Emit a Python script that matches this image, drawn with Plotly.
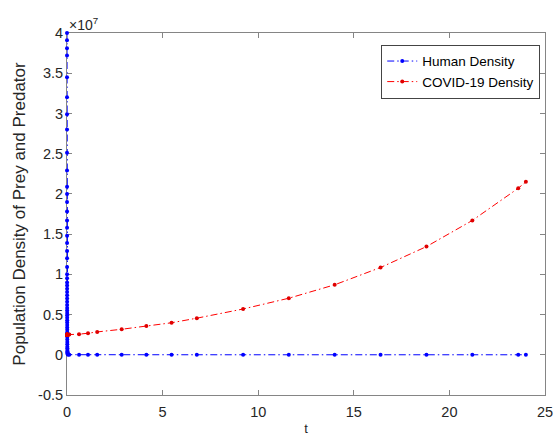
import plotly.graph_objects as go

# Solver output: the initial fast transient near t = 0 (values in units of 1e7)
t_transient = [
    0.0000, 0.0001, 0.0002, 0.0003, 0.0005, 0.0007, 0.0009, 0.0011, 0.0014, 0.0017,
    0.0020, 0.0022, 0.0024, 0.0026, 0.0028, 0.0030, 0.0032, 0.0034, 0.0036, 0.0038,
    0.0040, 0.0043, 0.0046, 0.0049, 0.0052, 0.0055, 0.0058, 0.0061, 0.0064, 0.0067,
    0.0070, 0.0074, 0.0078, 0.0082, 0.0086, 0.0090, 0.0095, 0.0100, 0.0105, 0.0110,
    0.0116, 0.0122, 0.0128, 0.0135, 0.0142, 0.0150, 0.0160, 0.0170, 0.0185, 0.0200,
    0.0220, 0.0250, 0.0290, 0.0340, 0.0420, 0.0550,
]
human_transient = [
    4.00, 3.91, 3.81, 3.72, 3.45, 3.20, 2.99, 2.80, 2.51, 2.29,
    2.09, 2.00, 1.90, 1.78, 1.67, 1.58, 1.48, 1.39, 1.29, 1.20,
    1.09, 1.00, 0.95, 0.90, 0.86, 0.82, 0.78, 0.74, 0.70, 0.66,
    0.62, 0.58, 0.55, 0.52, 0.49, 0.46, 0.43, 0.40, 0.37, 0.34,
    0.31, 0.28, 0.25, 0.22, 0.19, 0.16, 0.13, 0.10, 0.08, 0.06,
    0.04, 0.03, 0.02, 0.01, 0.005, 0.002,
]
covid_transient = [
    0.250, 0.250, 0.250, 0.250, 0.250, 0.250, 0.250, 0.250, 0.250, 0.250,
    0.250, 0.250, 0.250, 0.250, 0.250, 0.250, 0.250, 0.250, 0.250, 0.250,
    0.250, 0.250, 0.250, 0.250, 0.250, 0.250, 0.250, 0.250, 0.250, 0.250,
    0.250, 0.250, 0.250, 0.250, 0.250, 0.250, 0.250, 0.250, 0.250, 0.250,
    0.250, 0.250, 0.250, 0.250, 0.250, 0.250, 0.250, 0.250, 0.250, 0.250,
    0.250, 0.250, 0.250, 0.250, 0.250, 0.250,
]

# Solver output: the slow phase up to t = 24 (values in units of 1e7)
t_slow = [0.12, 0.63, 1.10, 1.58, 2.86, 4.15, 5.47, 6.79, 9.21, 11.6,
          14.0, 16.4, 18.8, 21.2, 23.6, 24.0]
human_slow = [0.001, 0.0005, 0.0003, 0.0002, 0.0001, 0.0, 0.0, 0.0, 0.0, 0.0,
              0.0, 0.0, 0.0, 0.0, 0.0, 0.0]
covid_slow = [0.251, 0.256, 0.268, 0.284, 0.317, 0.358, 0.398, 0.455, 0.569, 0.703,
              0.870, 1.085, 1.345, 1.670, 2.070, 2.150]

y_ticks = [-0.5, 0, 0.5, 1, 1.5, 2, 2.5, 3, 3.5, 4]
y_tick_labels = ["-0.5", "0", "0.5", "1", "1.5", "2", "2.5", "3", "3.5", "4"]
x_ticks = [0, 5, 10, 15, 20, 25]

SCALE = 1e7
t = t_transient + t_slow
human = [v * SCALE for v in human_transient + human_slow]
covid = [v * SCALE for v in covid_transient + covid_slow]

FONT = "Arial, Liberation Sans, Helvetica, sans-serif"
AXIS_GREY = "#858585"
TEXT = "#262626"
DASHDOT = "7px,3px,1.5px,3px"

fig = go.Figure()
fig.add_trace(go.Scatter(
    x=t, y=human, name="Human Density", mode="lines+markers",
    line=dict(color="#0000ff", width=1, dash=DASHDOT),
    marker=dict(color="#0000ff", size=4),
    cliponaxis=False,
))
fig.add_trace(go.Scatter(
    x=t, y=covid, name="COVID-19 Density", mode="lines+markers",
    line=dict(color="#ff0000", width=1, dash=DASHDOT),
    marker=dict(color="#e00000", size=4),
    cliponaxis=False,
))

axis_common = dict(
    showline=True, linecolor=AXIS_GREY, linewidth=1, mirror="allticks",
    ticks="inside", ticklen=5, tickcolor=AXIS_GREY, tickwidth=1,
    showgrid=False, zeroline=False, layer="below traces",
    tickfont=dict(family=FONT, size=14.5, color=TEXT),
    ticklabeloverflow="allow",
)

fig.update_layout(
    width=560, height=441,
    margin=dict(l=67, r=7, t=33, b=39),
    paper_bgcolor="white", plot_bgcolor="white",
    font=dict(family=FONT, color=TEXT),
    showlegend=True,
    legend=dict(
        x=0.99, xanchor="right", y=0.9675, yanchor="top",
        bgcolor="white", bordercolor="#444444", borderwidth=1,
        font=dict(family=FONT, size=13.5, color="#000000"),
        itemwidth=30, tracegroupgap=0,
    ),
    xaxis=dict(
        range=[0, 25], tickvals=x_ticks, ticklabelstandoff=4,
        title=dict(text="t", font=dict(family=FONT, size=13, color=TEXT), standoff=4),
        **axis_common,
    ),
    yaxis=dict(
        range=[-0.5 * SCALE, 4 * SCALE],
        tickvals=[v * SCALE for v in y_ticks], ticktext=y_tick_labels,
        title=dict(text="Population Density of Prey and Predator",
                   font=dict(family=FONT, size=17, color=TEXT), standoff=8),
        **axis_common,
    ),
    annotations=[dict(
        x=0, y=1, xref="paper", yref="paper", xanchor="left", yanchor="bottom",
        text="×10<sup>7</sup>", showarrow=False, xshift=0, yshift=-2,
        font=dict(family=FONT, size=14, color=TEXT),
    )],
)

fig.write_html("out.html")
